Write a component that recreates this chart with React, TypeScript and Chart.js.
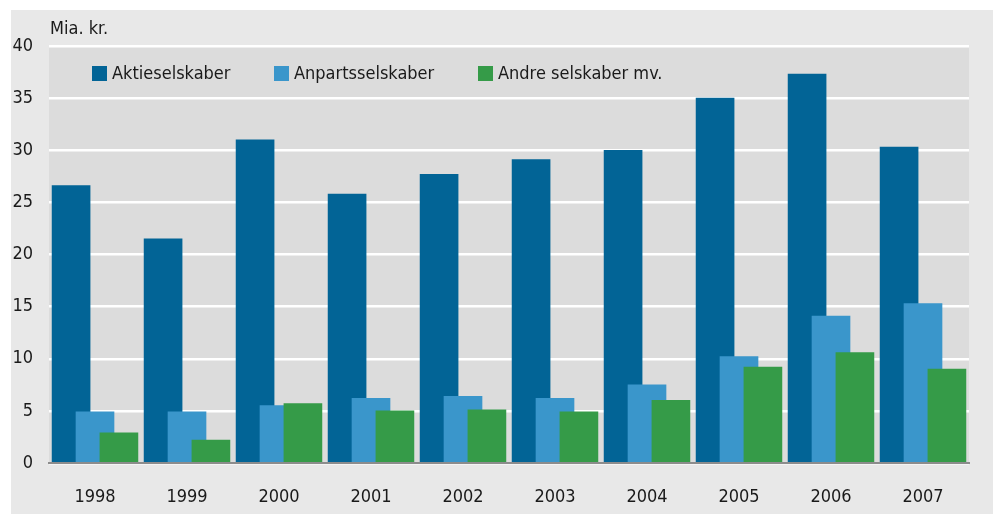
import React, { useEffect, useRef } from "react";
import { Chart, registerables } from "chart.js";

Chart.register(...registerables);

const years = ["1998", "1999", "2000", "2001", "2002", "2003", "2004", "2005", "2006", "2007"];
const aktieselskaber = [26.6, 21.5, 31.0, 25.8, 27.7, 29.1, 30.0, 35.0, 37.3, 30.3];
const anpartsselskaber = [4.9, 4.9, 5.5, 6.2, 6.4, 6.2, 7.5, 10.2, 14.1, 15.3];
const andreSelskaber = [2.9, 2.2, 5.7, 5.0, 5.1, 4.9, 6.0, 9.2, 10.6, 9.0];
const seriesNames = ["Aktieselskaber", "Anpartsselskaber", "Andre selskaber mv."];
const seriesColors = ["#026496", "#3a96cb", "#359b48"];
const yTicks = [0, 5, 10, 15, 20, 25, 30, 35, 40];
const unitLabel = "Mia. kr.";

const FONT = "'DejaVu Sans Condensed', 'DejaVu Sans', sans-serif";
const SHIFT = 0.26;

const bgPlugin = {
  id: "bgPlugin",
  beforeDraw(chart: any) {
    const { ctx, chartArea } = chart;
    ctx.save();
    ctx.fillStyle = "#e8e8e8";
    ctx.fillRect(11, 10, 982, 504);
    ctx.fillStyle = "#dcdcdc";
    ctx.fillRect(chartArea.left, chartArea.top, chartArea.right - chartArea.left, chartArea.bottom - chartArea.top);
    ctx.restore();
  },
  afterDraw(chart: any) {
    const { ctx, chartArea } = chart;
    ctx.save();
    ctx.fillStyle = "#1a1a1a";
    ctx.font = `18px ${FONT}`;
    ctx.textBaseline = "middle";
    ctx.textAlign = "left";
    ctx.fillText(unitLabel, chartArea.left + 1, 29);
    const legendX = [92, 274, 478];
    seriesNames.forEach((name, i) => {
      ctx.fillStyle = seriesColors[i];
      ctx.fillRect(legendX[i], 66, 15, 15);
      ctx.fillStyle = "#1a1a1a";
      ctx.fillText(name, legendX[i] + 20, 74);
    });
    ctx.restore();
  },
};

export default function App() {
  const ref = useRef<HTMLCanvasElement>(null);
  useEffect(() => {
    document.body.style.margin = "0";
    const series = [aktieselskaber, anpartsselskaber, andreSelskaber];
    const chart = new Chart(ref.current as HTMLCanvasElement, {
      type: "bar",
      data: {
        datasets: series.map((vals, s) => ({
          label: seriesNames[s],
          data: vals.map((v, i) => ({ x: i + (s - 1) * SHIFT, y: v })),
          backgroundColor: seriesColors[s],
          borderWidth: 0,
          barThickness: 38,
          grouped: false,
          order: 3 - s,
        })),
      },
      options: {
        animation: false,
        responsive: false,
        layout: { padding: { left: 0, right: 29, top: 46, bottom: 0 } },
        plugins: { legend: { display: false }, tooltip: { enabled: false } },
        scales: {
          x: {
            type: "linear",
            offset: false,
            min: -0.5,
            max: 9.5,
            afterFit: (scale: any) => { scale.height = 51; },
            afterBuildTicks: (scale: any) => { scale.ticks = years.map((_, i) => ({ value: i })); },
            ticks: {
              autoSkip: false,
              maxRotation: 0,
              padding: 24,
              color: "#1a1a1a",
              font: { family: FONT, size: 18 },
              callback: (v: any) => (years[v] !== undefined ? years[v] : ""),
            },
            grid: { display: false, drawTicks: false },
            border: { display: true, color: "#8c8c8c", width: 2 },
          },
          y: {
            min: 0,
            max: 40,
            afterFit: (scale: any) => { scale.width = 49; },
            afterBuildTicks: (scale: any) => { scale.ticks = yTicks.map((v) => ({ value: v })); },
            ticks: {
              padding: 16,
              color: "#1a1a1a",
              font: { family: FONT, size: 18 },
            },
            grid: { color: "#ffffff", lineWidth: 2.5, drawTicks: false },
            border: { display: false },
          },
        },
      },
      plugins: [bgPlugin],
    });
    return () => chart.destroy();
  }, []);
  return (
    <div style={{ position: "absolute", left: 0, top: 0, width: 998, height: 514, background: "#fff" }}>
      <canvas ref={ref} width={998} height={514} style={{ display: "block", width: 998, height: 514 }} />
    </div>
  );
}
